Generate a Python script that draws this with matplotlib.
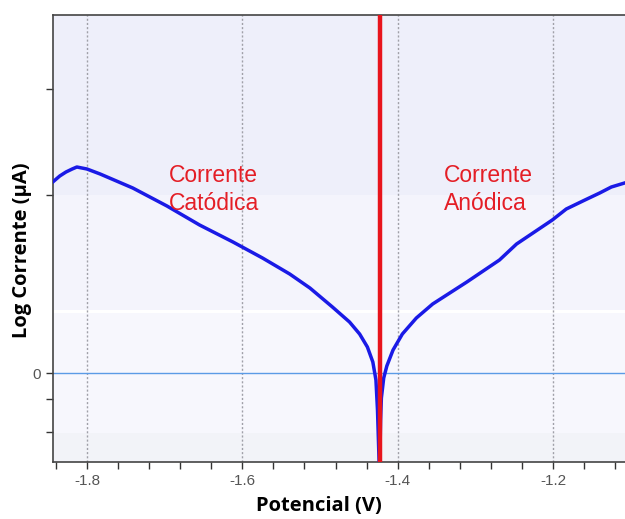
import numpy as np
import matplotlib.pyplot as plt
from matplotlib.ticker import FixedLocator, MultipleLocator

# cathodic branch (potential in V, log current)
cat_v = [-1.844, -1.835, -1.827, -1.819, -1.813, -1.800, -1.783, -1.741, -1.697,
         -1.655, -1.612, -1.574, -1.539, -1.513, -1.484, -1.462, -1.449, -1.439,
         -1.432, -1.428, -1.426, -1.424]
cat_i = [1.91, 1.97, 2.01, 2.04, 2.06, 2.04, 1.99, 1.85, 1.67,
         1.48, 1.31, 1.15, 0.99, 0.85, 0.66, 0.51, 0.39, 0.26,
         0.11, -0.07, -0.37, -0.87]

# anodic branch
ano_v = [-1.423, -1.422, -1.421, -1.418, -1.414, -1.406, -1.394, -1.376, -1.355,
         -1.311, -1.269, -1.247, -1.224, -1.201, -1.183, -1.159, -1.140, -1.125,
         -1.108]
ano_i = [-0.87, -0.47, -0.25, -0.05, 0.07, 0.23, 0.39, 0.55, 0.69,
         0.91, 1.13, 1.29, 1.41, 1.53, 1.64, 1.73, 1.80, 1.86,
         1.90]

e_corr = -1.423
x_major = [-1.8, -1.6, -1.4, -1.2]
x_labels = ['-1.8', '-1.6', '-1.4', '-1.2']
y_ticks = [2.84, 1.78, 0.0, -0.26, -0.59]
y_labels = ['', '', '0', '', '']

fig = plt.figure(figsize=(6.25, 5.19), dpi=100)
ax = fig.add_axes([0.0848, 0.1098, 0.9152, 0.8613])
ax.set_xlim(-1.8437, -1.1074)
ax.set_ylim(-0.89, 3.58)

# plot area shading
ax.axhspan(1.78, 3.58, color='#eeeffa', lw=0, zorder=0)
ax.axhspan(0.63, 1.78, color='#f4f4fc', lw=0, zorder=0)
ax.axhspan(0.60, 0.63, color='white', lw=0, zorder=0)
ax.axhspan(-0.6, 0.60, color='#f7f7fd', lw=0, zorder=0)
ax.axhspan(-0.89, -0.6, color='#f2f3f8', lw=0, zorder=0)

for xv in x_major:
    ax.axvline(xv, color='#a0a0a8', lw=1, ls=(0, (1.5, 1.5)), zorder=1)
ax.axhline(0, color='#5b9be6', lw=1, zorder=1)

ax.plot(cat_v, cat_i, color='#1a1ae6', lw=2.5, zorder=3)
ax.plot(ano_v, ano_i, color='#1a1ae6', lw=2.5, zorder=3)
ax.axvline(e_corr, color='#e8141c', lw=3.2, zorder=4)

ax.text(-1.694, 2.09, 'Corrente\nCatódica', color='#e41e26', fontsize=16.5,
        family='Liberation Sans', va='top', linespacing=1.3)
ax.text(-1.341, 2.09, 'Corrente\nAnódica', color='#e41e26', fontsize=16.5,
        family='Liberation Sans', va='top', linespacing=1.3)

ax.xaxis.set_major_locator(FixedLocator(x_major))
ax.set_xticklabels(x_labels)
ax.xaxis.set_minor_locator(MultipleLocator(0.04))
ax.yaxis.set_major_locator(FixedLocator(y_ticks))
ax.set_yticklabels(y_labels)
ax.tick_params(axis='both', which='both', direction='out', length=5, width=1,
               color='#333333', labelcolor='#555555', labelsize=11)
for lab in ax.get_xticklabels() + ax.get_yticklabels():
    lab.set_family('Liberation Sans')

for s in ['left', 'bottom', 'top']:
    ax.spines[s].set_color('#444444')
    ax.spines[s].set_linewidth(1.2)
ax.spines['right'].set_visible(False)

ax.set_xlabel('Potencial (V)', fontsize=14.5, fontweight='bold', family='Open Sans')
ax.xaxis.set_label_coords(0.465, -0.075)
ax.set_ylabel('Log Corrente (µA)', fontsize=14.5, fontweight='bold', family='Open Sans')
ax.yaxis.set_label_coords(-0.037, 0.474)

fig.savefig('out.png', dpi=100)
